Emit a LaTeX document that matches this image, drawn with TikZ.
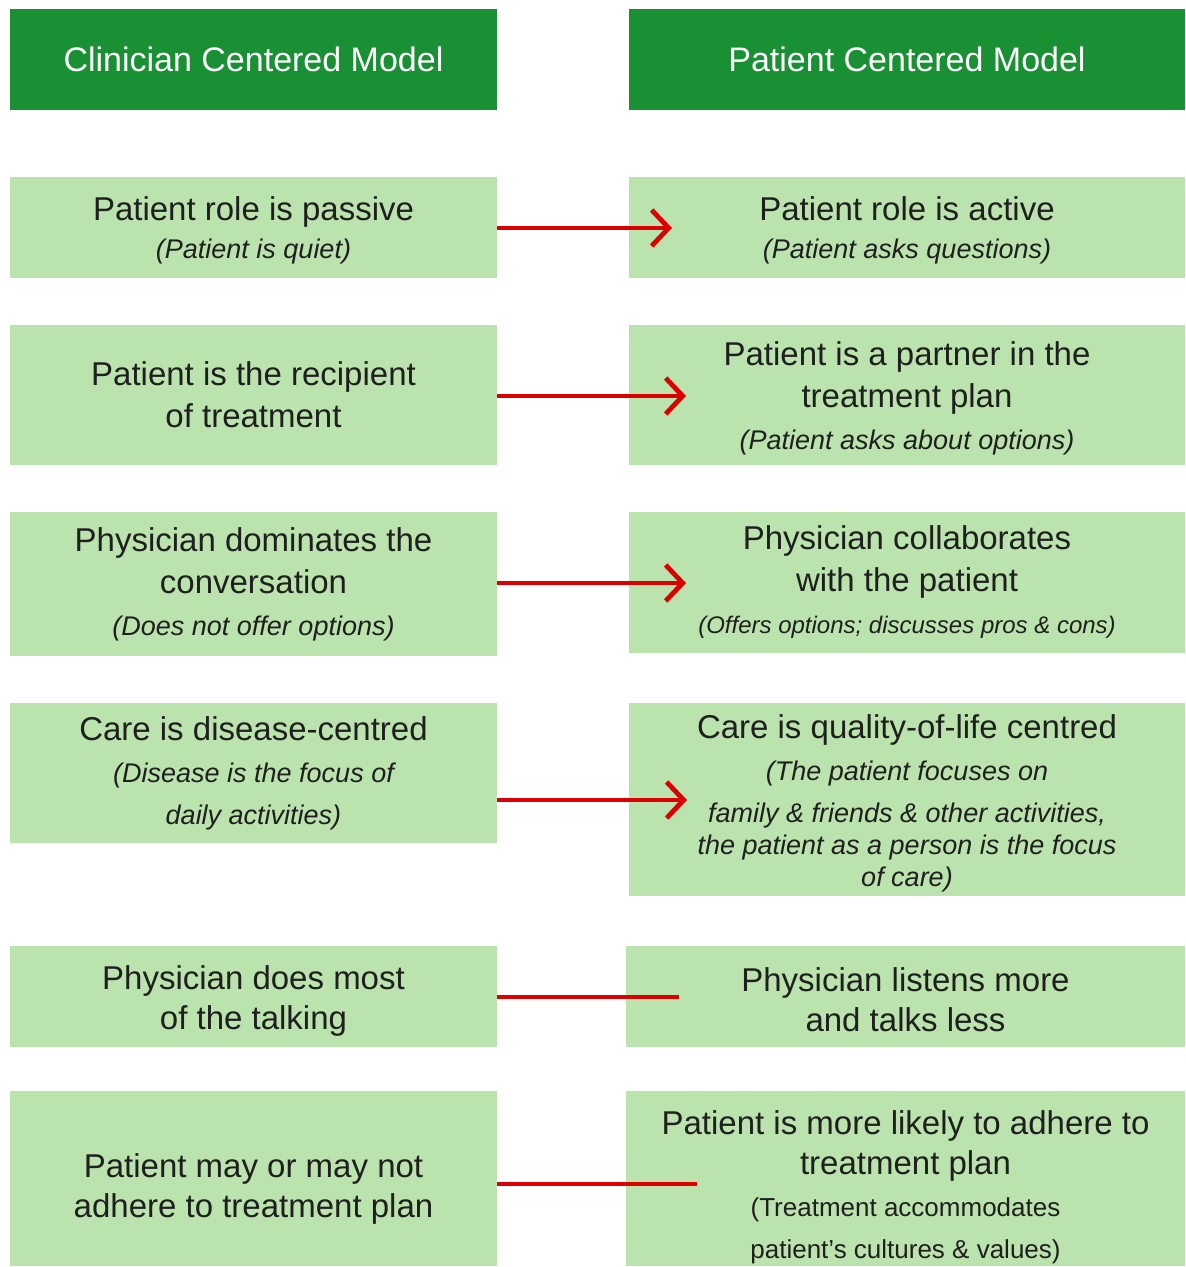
\documentclass[tikz,border=0pt]{standalone}
\usepackage{fontspec}
\setmainfont{Liberation Sans}
\usetikzlibrary{arrows.meta}
\definecolor{headgreen}{RGB}{26,144,52}
\definecolor{cellgreen}{RGB}{187,227,174}
\definecolor{linkred}{RGB}{220,0,0}
\newcommand{\aside}[1]{{\fontsize{13.5}{18}\selectfont\itshape #1}}
\newcommand{\lift}[1]{\rule{0pt}{#1}}

\begin{document}
\begin{tikzpicture}[x=0.5pt, y=-0.5pt,
    head/.style={fill=headgreen, text=white, inner sep=0pt, font=\fontsize{17}{21}\selectfont},
    cell/.style={fill=cellgreen, text=black!88, align=center, inner sep=0pt, font=\fontsize{16.5}{21}\selectfont},
    arr/.style={linkred, line width=2pt, -{Straight Barb[length=8.5pt, width=18pt, line width=2.4pt]}},
    link/.style={linkred, line width=2pt}]
    \useasboundingbox (0,0) rectangle (1186,1267);

    % Column heads
    \node[head, minimum width=243.5pt, minimum height=50.5pt] (hl) at (253.5,59.5) {Clinician Centered Model};
    \node[head, minimum width=278pt, minimum height=50.5pt] (hr) at (907,59.5) {Patient Centered Model};

    % Row 1
    \node[cell, minimum width=243.5pt, minimum height=50.5pt] (l1) at (253.5,227.5)
        {\lift{15pt}Patient role is passive\\[-2pt] \aside{(Patient is quiet)}};
    \node[cell, minimum width=278pt, minimum height=50.5pt] (r1) at (907,227.5)
        {\lift{15pt}Patient role is active\\[-2pt] \aside{(Patient asks questions)}};

    % Row 2
    \node[cell, minimum width=243.5pt, minimum height=70pt] (l2) at (253.5,395)
        {Patient is the recipient\\ of treatment};
    \node[cell, minimum width=278pt, minimum height=70pt] (r2) at (907,395)
        {\lift{15pt}Patient is a partner in the\\ treatment plan\\ \aside{(Patient asks about options)}};

    % Row 3
    \node[cell, minimum width=243.5pt, minimum height=72pt] (l3) at (253.5,584)
        {Physician dominates the\\ conversation\\ \aside{(Does not offer options)}};
    \node[cell, minimum width=278pt, minimum height=70.5pt] (r3) at (907,582.5)
        {Physician collaborates\\ with the patient\\ {\fontsize{12}{16}\selectfont\itshape (Offers options; discusses pros \& cons)}};

    % Row 4
    \node[cell, minimum width=243.5pt, minimum height=70pt] (l4) at (253.5,773)
        {Care is disease-centred\\ \aside{(Disease is the focus of}\\ \aside{daily activities)}};
    \node[cell, minimum width=278pt, minimum height=96.5pt] (r4) at (907,799.5)
        {\lift{16pt}Care is quality-of-life centred\\ \aside{(The patient focuses on}\\ \aside{family \& friends \& other activities,}\\[-5pt]
         \aside{the patient as a person is the focus}\\[-5pt] \aside{of care)}};

    % Row 5
    \node[cell, minimum width=243.5pt, minimum height=50.5pt] (l5) at (253.5,996.5)
        {\lift{16pt}Physician does most\\[-1pt] of the talking};
    \node[cell, minimum width=279.5pt, minimum height=50.5pt] (r5) at (905.5,996.5)
        {\lift{15pt}Physician listens more\\[-1pt] and talks less};

    % Row 6
    \node[cell, minimum width=243.5pt, minimum height=87.5pt] (l6) at (253.5,1178.5)
        {\lift{22pt}Patient may or may not\\[-1pt] adhere to treatment plan};
    \node[cell, minimum width=279.5pt, minimum height=87.5pt] (r6) at (905.5,1178.5)
        {\lift{21pt}Patient is more likely to adhere to\\[-1pt] treatment plan\\ {\fontsize{13}{18}\selectfont (Treatment accommodates}\\
         {\fontsize{13}{18}\selectfont patient's cultures \& values)}};

    % Connectors
    \coordinate (t1) at (672,228);
    \coordinate (t2) at (686,396);
    \coordinate (t3) at (686,583);
    \coordinate (t4) at (687,800);
    \coordinate (e5) at (679,996.5);
    \coordinate (e6) at (697,1184);
    \draw[arr] (l1.east |- t1) -- (t1);
    \draw[arr] (l2.east |- t2) -- (t2);
    \draw[arr] (l3.east |- t3) -- (t3);
    \draw[arr] (l4.east |- t4) -- (t4);
    \draw[link] (l5.east |- e5) -- (e5);
    \draw[link] (l6.east |- e6) -- (e6);
\end{tikzpicture}
\end{document}
